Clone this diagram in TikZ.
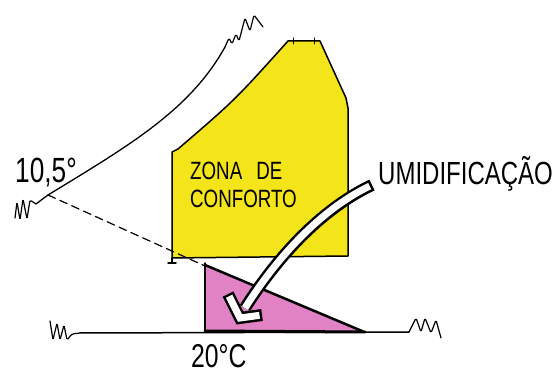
\documentclass[tikz,border=0pt]{standalone}
\usepackage{fontspec}
\newfontfamily\handfont[FakeStretch=0.75]{Liberation Sans}
\definecolor{zonayellow}{RGB}{244,228,26}
\definecolor{umidpink}{RGB}{224,130,196}
\begin{document}
\begin{tikzpicture}[x=1pt,y=-1pt,line cap=round,line join=round,
  pen/.style={draw=black,line width=1.5pt},
  squiggle/.style={draw=black,line width=1.2pt,rounded corners=1.5pt},
  hand/.style={font=\handfont\fontsize{#1}{#1}\selectfont,inner sep=0pt,anchor=base west}]
\useasboundingbox (0,0) rectangle (552,374);
\filldraw[pen,fill=zonayellow] (172,258) -- (172,152) -- (178,149) .. controls (235,100) .. (288,41) -- (320,41) -- (346,98) -- (348,108) -- (348,256) -- cycle;
\draw[pen,line width=1pt] (293,38) -- (293,44) (314,38) -- (314,44);
\draw[pen] (172,258) -- (172,263) (168,263) -- (176,263);
\fill[umidpink] (205,265) -- (205,332) -- (362,332) -- cycle;
\draw[pen] (205,263) -- (205,332);
\draw[pen,line width=2.5pt] (205,265) -- (362,331);
\draw[pen,line width=1.2pt,dash pattern=on 8pt off 5pt] (48,195) -- (205,266);
\draw[pen] (80,333) -- (409,332);
\draw[line width=3pt] (205,331) -- (365,332);
\draw[pen,line width=1.3pt] (36,204) -- (48,195) .. controls (130,145) and (190,110) .. (225,47);
\draw[squiggle] (36,204) -- (30,200) -- (27,219) -- (23,199) -- (20,220) -- (17,202) -- (15,218);
\draw[squiggle] (225,47) -- (229,38) -- (232,44) -- (236,34) -- (239,41) -- (245,18) -- (250,31) -- (254,15) -- (263,27);
\draw[squiggle] (80,333) -- (72,334) -- (67,340) -- (64,325) -- (60,340) -- (57,323) -- (53,340) -- (50,321);
\draw[squiggle] (409,332) -- (412,326) -- (416,318) -- (421,332) -- (425,318) -- (431,333) -- (436,320) -- (441,338);
\node[hand=32] (umid) at (378,185) {UMIDIFICAÇÃO};
\node[hand=25] (zona) at (190,180) {ZONA\hspace{14pt}DE};
\node[hand=25] (conforto) at (190,208) {CONFORTO};
\node[hand=35] (tsat) at (15,183) {10,5°};
\node[hand=33] (tbase) at (191,367) {20°C};
\coordinate (tip) at (245,308);
\draw[line width=12pt,line cap=butt] ([xshift=-6pt]umid.base west) .. controls (330,205) and (285,245) .. (tip);
\draw[line width=12pt,line cap=butt,line join=miter] (228,294) -- (240,318) -- (262,315);
\draw[white,line width=7pt,line cap=butt,shorten <=2.5pt] ([xshift=-6pt]umid.base west) .. controls (330,205) and (285,245) .. (tip);
\draw[white,line width=7pt,line cap=butt,line join=miter,shorten <=2.5pt,shorten >=2.5pt] (228,294) -- (240,318) -- (262,315);
\end{tikzpicture}
\end{document}
